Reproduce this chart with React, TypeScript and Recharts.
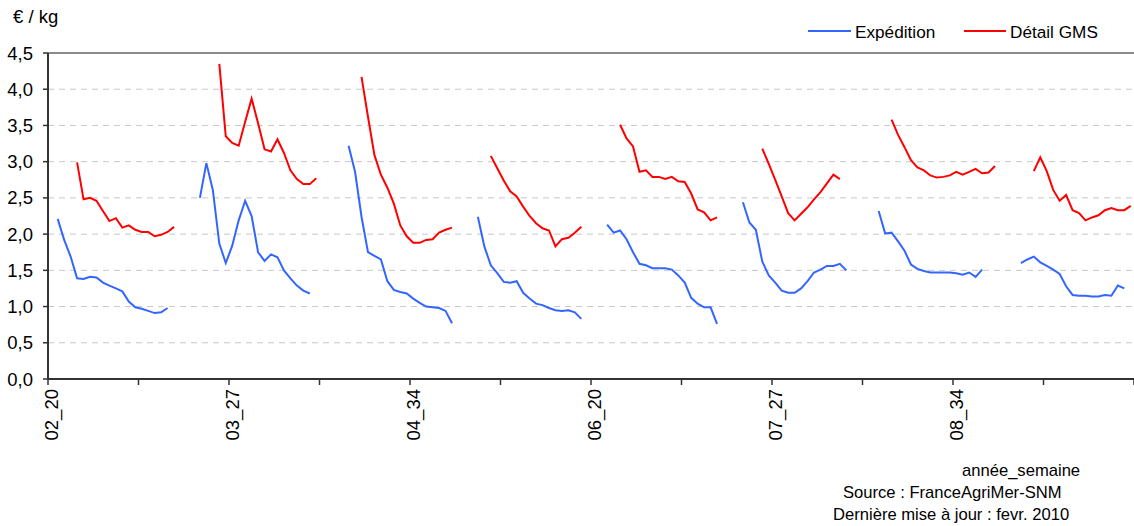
import React from 'react';
import { LineChart, Line, XAxis, YAxis, CartesianGrid, ReferenceLine } from 'recharts';

// années 2002 à 2009, semaines 20 à 40
const YEARS = ['02', '03', '04', '05', '06', '07', '08', '09'];
const WEEKS = [20, 21, 22, 23, 24, 25, 26, 27, 28, 29, 30, 31, 32, 33, 34, 35, 36, 37, 38, 39, 40];

// prix expédition (€/kg), une valeur par semaine, null = pas de cotation
const EXP_02 = [null, 2.21, 1.92, 1.69, 1.39, 1.38, 1.41, 1.4, 1.33, 1.29, 1.25, 1.21, 1.07, 0.99, 0.97, 0.94, 0.91, 0.92, 0.98, null, null];
const EXP_03 = [null, null, 2.5, 2.98, 2.61, 1.87, 1.6, 1.84, 2.19, 2.46, 2.25, 1.75, 1.63, 1.72, 1.68, 1.5, 1.39, 1.29, 1.22, 1.18, null];
const EXP_04 = [null, null, null, null, 3.22, 2.86, 2.24, 1.75, 1.7, 1.65, 1.35, 1.23, 1.2, 1.18, 1.11, 1.05, 1.0, 0.99, 0.98, 0.94, 0.77];
const EXP_05 = [null, null, null, 2.24, 1.83, 1.57, 1.46, 1.34, 1.33, 1.35, 1.19, 1.11, 1.04, 1.02, 0.98, 0.95, 0.94, 0.95, 0.92, 0.83, null];
const EXP_06 = [null, null, 2.13, 2.02, 2.05, 1.93, 1.75, 1.59, 1.57, 1.53, 1.53, 1.53, 1.51, 1.43, 1.33, 1.12, 1.04, 0.99, 0.99, 0.76, null];
const EXP_07 = [null, null, 2.44, 2.16, 2.06, 1.62, 1.43, 1.33, 1.22, 1.19, 1.19, 1.25, 1.35, 1.47, 1.51, 1.56, 1.56, 1.59, 1.5, null, null];
const EXP_08 = [null, null, 2.32, 2.01, 2.02, 1.9, 1.77, 1.58, 1.52, 1.49, 1.47, 1.47, 1.47, 1.47, 1.46, 1.44, 1.47, 1.41, 1.51, null, null];
const EXP_09 = [null, null, null, 1.6, 1.65, 1.69, 1.61, 1.56, 1.51, 1.45, 1.28, 1.16, 1.15, 1.15, 1.14, 1.14, 1.16, 1.15, 1.29, 1.25, null];

// prix détail GMS (€/kg)
const GMS_02 = [null, null, null, null, 2.99, 2.48, 2.5, 2.46, 2.32, 2.18, 2.22, 2.09, 2.12, 2.06, 2.03, 2.03, 1.97, 1.99, 2.03, 2.1, null];
const GMS_03 = [null, null, null, null, null, 4.35, 3.35, 3.26, 3.22, 3.55, 3.87, 3.53, 3.17, 3.14, 3.31, 3.12, 2.88, 2.76, 2.69, 2.69, 2.77];
const GMS_04 = [null, null, null, null, null, null, 4.17, 3.62, 3.09, 2.82, 2.64, 2.42, 2.12, 1.97, 1.88, 1.88, 1.92, 1.93, 2.02, 2.06, 2.09];
const GMS_05 = [null, null, null, null, null, 3.08, 2.91, 2.74, 2.59, 2.52, 2.38, 2.25, 2.15, 2.08, 2.05, 1.83, 1.93, 1.95, 2.02, 2.1, null];
const GMS_06 = [null, null, null, null, 3.51, 3.32, 3.21, 2.86, 2.88, 2.79, 2.79, 2.76, 2.79, 2.73, 2.72, 2.56, 2.34, 2.3, 2.19, 2.23, null];
const GMS_07 = [null, null, null, null, null, 3.18, 2.97, 2.75, 2.52, 2.29, 2.19, 2.28, 2.37, 2.48, 2.58, 2.7, 2.82, 2.76, null, null, null];
const GMS_08 = [null, null, null, null, 3.58, 3.37, 3.2, 3.02, 2.92, 2.88, 2.81, 2.78, 2.79, 2.81, 2.86, 2.82, 2.86, 2.9, 2.84, 2.85, 2.94];
const GMS_09 = [null, null, null, null, null, 2.87, 3.06, 2.87, 2.61, 2.46, 2.54, 2.33, 2.29, 2.19, 2.23, 2.26, 2.33, 2.36, 2.33, 2.33, 2.39];

const Y_TICKS = [0, 0.5, 1, 1.5, 2, 2.5, 3, 3.5, 4, 4.5];

const EXPEDITION = [EXP_02, EXP_03, EXP_04, EXP_05, EXP_06, EXP_07, EXP_08, EXP_09];
const DETAIL_GMS = [GMS_02, GMS_03, GMS_04, GMS_05, GMS_06, GMS_07, GMS_08, GMS_09];

const data = YEARS.flatMap((yy, y) =>
  WEEKS.map((wk, w) => ({
    idx: y * WEEKS.length + w,
    label: `${yy}_${wk}`,
    expedition: EXPEDITION[y][w],
    gms: DETAIL_GMS[y][w],
  }))
);

const WIDTH = 1134;
const HEIGHT = 526;
const Y_AXIS_W = 48;
const CAT_W = (WIDTH - Y_AXIS_W) / data.length;
const FONT = "'Liberation Sans', Arial, sans-serif";
const BLUE = '#3366ff';
const RED = '#ff0000';
const AXIS_FONT = 18.5;

// tick marks between categories every 14 weeks, label every 28
const X_TICKS = Array.from({ length: data.length / 14 + 1 }, (_, k) => k * 14 - 0.5);

const fmt = (v: number) => v.toFixed(1).replace('.', ',');

function WeekTick({ x, y, payload }: any) {
  const idx = payload.value + 0.5;
  if (idx % 28 !== 0 || idx >= data.length) return <g />;
  return (
    <text
      transform={`translate(${x + CAT_W / 2},${y + 2}) rotate(-90)`}
      textAnchor="end"
      dominantBaseline="central"
      fontSize={AXIS_FONT}
      fontFamily={FONT}
      fill="#000"
    >
      {data[idx].label}
    </text>
  );
}

export default function App() {
  return (
    <div style={{ position: 'absolute', left: 0, top: 0, width: WIDTH, height: HEIGHT, background: '#fff', fontFamily: FONT }}>
      <LineChart
        width={WIDTH}
        height={HEIGHT}
        data={data}
        margin={{ top: 53, right: 0, bottom: 117, left: 0 }}
      >
        <CartesianGrid vertical={false} stroke="#c8c8c8" strokeDasharray="6 5" />
        <XAxis
          dataKey="idx"
          type="number"
          domain={[-0.5, data.length - 0.5]}
          ticks={X_TICKS}
          interval={0}
          height={30}
          tickSize={6}
          tick={<WeekTick />}
          axisLine={{ stroke: '#333', strokeWidth: 2 }}
          tickLine={{ stroke: '#333', strokeWidth: 1.5 }}
        />
        <YAxis
          width={Y_AXIS_W}
          domain={[0, 4.5]}
          ticks={Y_TICKS}
          interval={0}
          tickFormatter={fmt}
          tickSize={5}
          tickMargin={10}
          tick={{ fill: '#000', fontSize: AXIS_FONT, fontFamily: FONT }}
          axisLine={{ stroke: '#333', strokeWidth: 2 }}
          tickLine={{ stroke: '#333', strokeWidth: 1.5 }}
        />
        <ReferenceLine y={4.5} stroke="#8a8a8a" strokeWidth={2} />
        <Line
          type="linear"
          dataKey="expedition"
          name="Expédition"
          stroke={BLUE}
          strokeWidth={2}
          dot={false}
          isAnimationActive={false}
        />
        <Line
          type="linear"
          dataKey="gms"
          name="Détail GMS"
          stroke={RED}
          strokeWidth={2}
          dot={false}
          isAnimationActive={false}
        />
      </LineChart>
      <svg
        width={WIDTH}
        height={HEIGHT}
        style={{ position: 'absolute', left: 0, top: 0, pointerEvents: 'none' }}
        fontFamily={FONT}
        fill="#000"
      >
        <text x={13} y={23} fontSize={AXIS_FONT}>€ / kg</text>
        <line x1={808} x2={851} y1={31} y2={31} stroke={BLUE} strokeWidth={2} />
        <text x={855} y={38} fontSize={17.2}>Expédition</text>
        <line x1={964} x2={1006} y1={31} y2={31} stroke={RED} strokeWidth={2} />
        <text x={1010} y={38} fontSize={17.2}>Détail GMS</text>
        <text x={962} y={476} fontSize={16.6}>année_semaine</text>
        <text x={843} y={498} fontSize={16.6}>Source : FranceAgriMer-SNM</text>
        <text x={833} y={520} fontSize={16.6}>Dernière mise à jour : fevr. 2010</text>
      </svg>
    </div>
  );
}
